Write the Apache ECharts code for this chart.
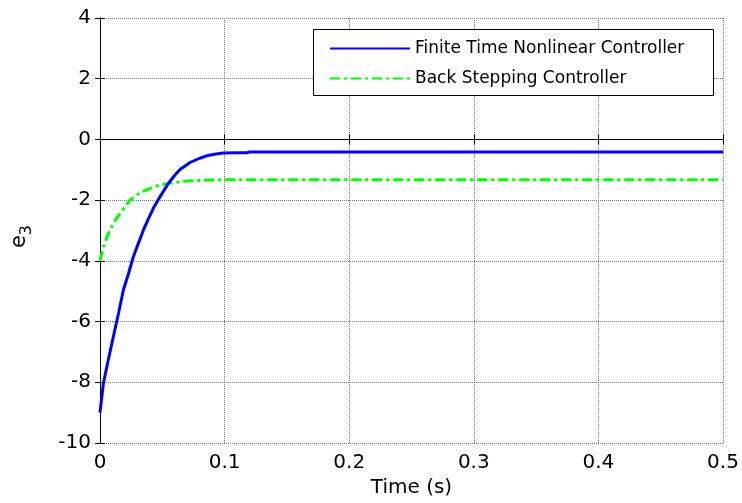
<!DOCTYPE html>
<html>
<head>
<meta charset="utf-8">
<script src="https://cdn.jsdelivr.net/npm/echarts@6/dist/echarts.min.js"></script>
<style>
  html, body { margin: 0; padding: 0; background: #fff; }
  #chart { width: 742px; height: 503px; }
</style>
</head>
<body>
<div id="chart"></div>
<script>
// Tracking error e3 for two controllers over the first half second
const xTicks = [0, 0.1, 0.2, 0.3, 0.4, 0.5];
const yTicks = [-10, -8, -6, -4, -2, 0, 2, 4];

const finiteTime = [0, 0.0027, 0.0067, 0.0107, 0.015, 0.0187, 0.023, 0.0267, 0.031, 0.0348,
                    0.039, 0.0428, 0.048, 0.0548, 0.06, 0.0642, 0.0722, 0.08, 0.0856, 0.093,
                    0.099, 0.11, 0.118, 0.12, 0.5];
const finiteValues = [-9.0, -8.04, -7.25, -6.5, -5.7, -4.97, -4.4, -3.87, -3.4, -2.99,
                      -2.6, -2.27, -1.9, -1.45, -1.18, -0.99, -0.76, -0.62, -0.54, -0.48,
                      -0.45, -0.44, -0.44, -0.41, -0.41];

const backTime = [0, 0.0027, 0.0067, 0.0107, 0.016, 0.024, 0.032, 0.043, 0.054, 0.067, 0.086, 0.1, 0.5];
const backValues = [-4.0, -3.54, -3.1, -2.77, -2.44, -2.0, -1.76, -1.56, -1.45, -1.38, -1.34, -1.33, -1.33];

const seriesNames = ['Finite Time Nonlinear Controller', 'Back Stepping Controller'];

const pairs = (xs, ys) => xs.map((x, i) => [x, ys[i]]);

const FONT = '"DejaVu Sans", Arial, sans-serif';
const gridLine = { show: true, lineStyle: { color: '#777', type: [1, 1], width: 1 } };
const tickIn = { show: true, inside: true, length: 5, lineStyle: { color: '#000' } };

const chart = echarts.init(document.getElementById('chart'), null, { renderer: 'canvas' });
chart.setOption({
  animation: false,
  backgroundColor: '#fff',
  grid: { left: 100, right: 19, top: 18, bottom: 60 },
  xAxis: [{
    type: 'value', min: xTicks[0], max: xTicks[xTicks.length - 1], interval: 0.1,
    position: 'bottom',
    name: 'Time (s)', nameLocation: 'middle', nameGap: 34,
    nameTextStyle: { fontFamily: FONT, fontSize: 20, color: '#000' },
    axisLine: { show: true, lineStyle: { color: '#000', width: 1 } },
    axisTick: tickIn,
    axisLabel: { fontFamily: FONT, fontSize: 20, color: '#000', margin: 10,
                 formatter: v => String(+v.toFixed(1)) },
    splitLine: gridLine
  }, {
    type: 'value', min: xTicks[0], max: xTicks[xTicks.length - 1], interval: 0.1,
    position: 'top',
    axisLine: { show: true, lineStyle: { color: '#000', width: 1 } },
    axisTick: tickIn, axisLabel: { show: false }, splitLine: { show: false }
  }],
  yAxis: [{
    type: 'value', min: yTicks[0], max: yTicks[yTicks.length - 1], interval: 2,
    position: 'left',
    name: '{e|e}{s|3}', nameLocation: 'middle', nameRotate: 90, nameGap: 65,
    nameTextStyle: {
      color: '#000', fontFamily: FONT, padding: [0, 12, 0, 0],
      rich: {
        e: { fontSize: 21, fontFamily: FONT, color: '#000', lineHeight: 26, verticalAlign: 'top' },
        s: { fontSize: 16, fontFamily: FONT, color: '#000', lineHeight: 26, verticalAlign: 'bottom', padding: [9, 0, 0, 0] }
      }
    },
    axisLine: { show: true, lineStyle: { color: '#000', width: 1 } },
    axisTick: tickIn,
    axisLabel: { fontFamily: FONT, fontSize: 20, color: '#000', margin: 9 },
    splitLine: gridLine
  }, {
    type: 'value', min: yTicks[0], max: yTicks[yTicks.length - 1], interval: 2,
    position: 'right',
    axisLine: { show: true, lineStyle: { color: '#000', width: 1 } },
    axisTick: tickIn, axisLabel: { show: false }, splitLine: { show: false }
  }],
  graphic: [{
    type: 'rect', left: 313, top: 29, z: 50,
    shape: { width: 400, height: 66 },
    style: { fill: '#fff', stroke: '#000', lineWidth: 1 }
  }],
  legend: {
    orient: 'vertical', left: 329, top: 40, z: 60,
    itemWidth: 80, itemHeight: 14, itemGap: 13,
    padding: 0,
    itemStyle: { color: 'rgba(0,0,0,0)', borderWidth: 0, opacity: 0 },
    textStyle: { fontFamily: FONT, fontSize: 17, color: '#000' },
    data: seriesNames
  },
  series: [{
    name: seriesNames[0], type: 'line', xAxisIndex: 0, yAxisIndex: 0,
    data: pairs(finiteTime, finiteValues),
    showSymbol: false, symbol: 'none',
    lineStyle: { color: '#0000ff', width: 3 },
    itemStyle: { color: '#0000ff' },
    z: 3
  }, {
    name: seriesNames[1], type: 'line', xAxisIndex: 0, yAxisIndex: 0,
    data: pairs(backTime, backValues),
    showSymbol: false, symbol: 'none',
    lineStyle: { color: '#00ff00', width: 3, type: [10, 4, 3, 4] },
    itemStyle: { color: '#00ff00' },
    z: 2
  }]
});
</script>
</body>
</html>
